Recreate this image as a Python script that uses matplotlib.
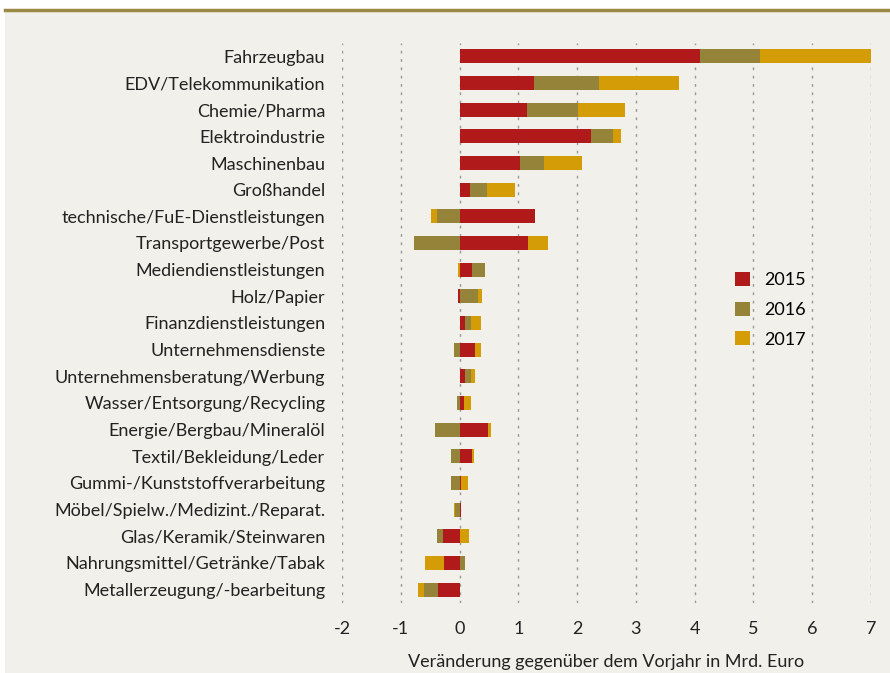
import numpy as np
import matplotlib.pyplot as plt
from matplotlib.patches import Rectangle, Patch
from matplotlib.lines import Line2D

plt.rcParams['font.family'] = ['Lato', 'DejaVu Sans']
plt.rcParams['axes.unicode_minus'] = False

# Branchen und Veraenderungen in Mrd. Euro
branchen = ['Fahrzeugbau', 'EDV/Telekommunikation', 'Chemie/Pharma', 'Elektroindustrie',
            'Maschinenbau', 'Großhandel', 'technische/FuE-Dienstleistungen',
            'Transportgewerbe/Post', 'Mediendienstleistungen', 'Holz/Papier',
            'Finanzdienstleistungen', 'Unternehmensdienste', 'Unternehmensberatung/Werbung',
            'Wasser/Entsorgung/Recycling', 'Energie/Bergbau/Mineralöl',
            'Textil/Bekleidung/Leder', 'Gummi-/Kunststoffverarbeitung',
            'Möbel/Spielw./Medizint./Reparat.', 'Glas/Keramik/Steinwaren',
            'Nahrungsmittel/Getränke/Tabak', 'Metallerzeugung/-bearbeitung']
v2015 = [4.09, 1.27, 1.14, 2.24, 1.02, 0.17, 1.29, 1.17, 0.22, -0.02, 0.09,
         0.27, 0.10, 0.07, 0.48, 0.22, 0.03, 0.02, -0.29, -0.27, -0.37]
v2016 = [1.02, 1.10, 0.88, 0.37, 0.42, 0.29, -0.39, -0.78, 0.22, 0.32, 0.10,
         -0.09, 0.09, -0.05, -0.41, -0.14, -0.14, -0.07, -0.10, 0.10, -0.24]
v2017 = [1.89, 1.36, 0.80, 0.14, 0.65, 0.49, -0.10, 0.33, -0.03, 0.07, 0.17,
         0.10, 0.07, 0.12, 0.05, 0.02, 0.12, -0.02, 0.16, -0.31, -0.10]
jahre = ['2015', '2016', '2017']
farben = ['#B01A1B', '#95833A', '#D49D08']

bg = '#F2F0EA'
fig = plt.figure(figsize=(8.9, 6.73), dpi=100, facecolor='white')
fig.add_artist(Rectangle((5 / 890, 0), 1, 1 - 10 / 673, transform=fig.transFigure,
                         facecolor=bg, edgecolor='none', zorder=-10))
fig.add_artist(Line2D([5 / 890, 1], [1 - 10 / 673, 1 - 10 / 673], transform=fig.transFigure,
                      color='#9B8A45', linewidth=2.5, zorder=-5))

ax = fig.add_axes([342 / 890, 1 - 603 / 673, 529 / 890, 560 / 673])
ax.set_facecolor('none')

y = np.arange(len(branchen))
pos = np.zeros(len(branchen))
neg = np.zeros(len(branchen))
for vals, farbe in zip([v2015, v2016, v2017], farben):
    vals = np.array(vals)
    left = np.where(vals >= 0, pos, neg)
    ax.barh(y, vals, left=left, height=0.52, color=farbe, zorder=3)
    pos = pos + np.where(vals >= 0, vals, 0)
    neg = neg + np.where(vals < 0, vals, 0)

ax.set_xlim(-2, 7)
ax.set_ylim(len(branchen) - 0.5, -0.5)
ax.set_xticks(range(-2, 8))
ax.set_yticks(y)
ax.set_yticklabels(branchen, fontsize=13, color='#222222')
ax.tick_params(axis='x', labelsize=13, colors='#222222', length=0, pad=13)
ax.tick_params(axis='y', length=0, pad=12)
for s in ax.spines.values():
    s.set_visible(False)
ax.grid(axis='x', linestyle=(0, (2, 4)), color='#999999', linewidth=1, zorder=0)
ax.set_xlabel('Veränderung gegenüber dem Vorjahr in Mrd. Euro', fontsize=13,
              color='#222222', labelpad=12)

handles = [Patch(facecolor=f, edgecolor='none') for f in farben]
ax.legend(handles, jahre, loc='upper left', bbox_to_anchor=(0.713, 0.62), frameon=False,
          fontsize=13, handlelength=0.8, handleheight=0.8, labelspacing=0.75, handletextpad=0.8)

plt.savefig('out.png', dpi=100, facecolor=fig.get_facecolor())
